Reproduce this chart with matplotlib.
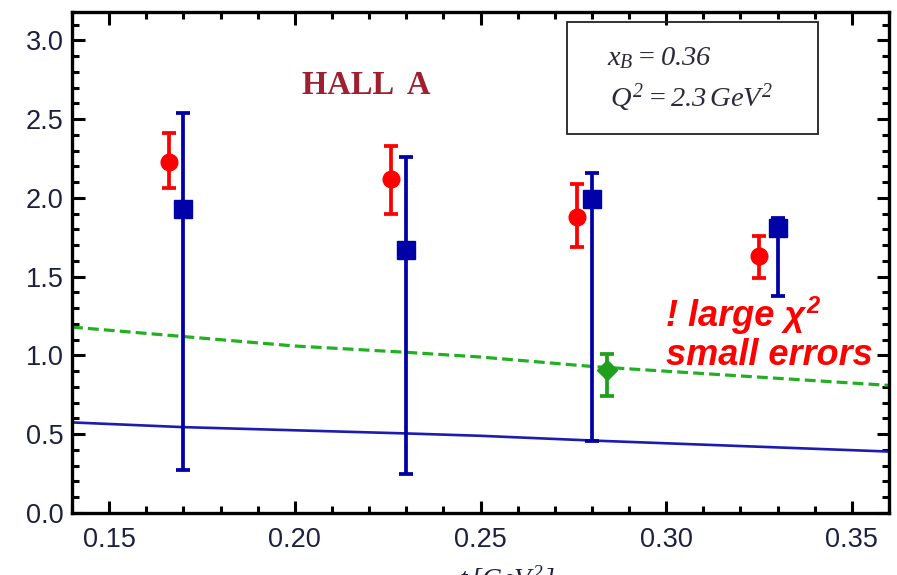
import matplotlib
matplotlib.use("Agg")
import matplotlib.pyplot as plt
from matplotlib.patches import Rectangle
from matplotlib.ticker import MultipleLocator
import numpy as np

# Hall A measurements (red circles)
red_t = [0.166, 0.226, 0.276, 0.325]
red_val = [2.23, 2.12, 1.88, 1.63]
red_lo = [2.06, 1.90, 1.69, 1.49]
red_hi = [2.41, 2.33, 2.09, 1.76]

# Fit results (blue squares)
blue_t = [0.170, 0.230, 0.280, 0.330]
blue_val = [1.93, 1.67, 1.99, 1.81]
blue_lo = [0.27, 0.25, 0.46, 1.38]
blue_hi = [2.54, 2.26, 2.16, 1.87]

# Single green point
green_t = [0.284]
green_val = [0.91]
green_lo = [0.74]
green_hi = [1.01]

# Model curves
curve_t = [0.14, 0.17, 0.20, 0.23, 0.25, 0.28, 0.32, 0.36]
green_curve = [1.18, 1.12, 1.06, 1.02, 0.99, 0.93, 0.87, 0.81]
blue_curve = [0.575, 0.545, 0.525, 0.505, 0.49, 0.46, 0.425, 0.39]

x_ticks = [0.15, 0.20, 0.25, 0.30, 0.35]
y_ticks = [0.0, 0.5, 1.0, 1.5, 2.0, 2.5, 3.0]

# italic serif math for the kinematics box and axis title
plt.rcParams['mathtext.fontset'] = 'custom'
plt.rcParams['mathtext.it'] = 'Liberation Serif:italic'
plt.rcParams['mathtext.rm'] = 'Liberation Serif:italic'

fig = plt.figure(figsize=(8.97, 5.75), dpi=100)
ax = fig.add_axes([72/897, 1-513/575, (889-72)/897, (513-12)/575])

ax.plot(curve_t, green_curve, color='#22b022', lw=2.3, ls=(0, (3.4, 1.6)), zorder=2)
ax.plot(curve_t, blue_curve, color='#1c1cb0', lw=1.9, zorder=2)


def yerr(val, lo, hi):
    v = np.asarray(val)
    return [v - np.asarray(lo), np.asarray(hi) - v]


ax.errorbar(red_t, red_val, yerr=yerr(red_val, red_lo, red_hi), fmt='o',
            color='#ff0000', ms=12, lw=2.7, capsize=5, capthick=2.7, zorder=4)
ax.errorbar(blue_t, blue_val, yerr=yerr(blue_val, blue_lo, blue_hi), fmt='s',
            color='#0000a8', ms=13, lw=2.7, capsize=5, capthick=2.7, zorder=5)
ax.errorbar(green_t, green_val, yerr=yerr(green_val, green_lo, green_hi), fmt='D',
            color='#1ea01e', ms=10, lw=2.7, capsize=5, capthick=2.7, zorder=5)

ax.set_xlim(0.14, 0.36)
ax.set_ylim(0.0, 3.18)
ax.set_xticks(x_ticks)
ax.set_yticks(y_ticks)
ax.set_xticklabels([f"{v:.2f}" for v in x_ticks])
ax.set_yticklabels([f"{v:.1f}" for v in y_ticks])
ax.xaxis.set_minor_locator(MultipleLocator(0.01))
ax.yaxis.set_minor_locator(MultipleLocator(0.1))
ax.tick_params(which='both', direction='in', top=True, right=True, width=2.2,
               colors='black', labelcolor='#1e2040')
ax.tick_params(which='major', length=9)
ax.tick_params(which='minor', length=5)
ax.tick_params(labelsize=19.5)
for lab in ax.get_xticklabels() + ax.get_yticklabels():
    lab.set_fontfamily('Liberation Sans')
ax.tick_params(axis='x', pad=10)
ax.tick_params(axis='y', pad=6)
for s in ax.spines.values():
    s.set_linewidth(2.4)

ax.text(0.2018, 2.66, "HALL  A", color='#9e2030', fontsize=23.5,
        family='Liberation Serif', weight='bold', va='baseline')

ax.add_patch(Rectangle((0.606, 0.756), 0.307, 0.224, transform=ax.transAxes,
                       fill=False, lw=1.3, ec='#222222', zorder=6))
ax.text(0.2840, 2.84, r"$x_B = 0.36$", fontsize=20.5, color='#2a2a3a',
        va='baseline')
ax.text(0.2848, 2.58, r"$Q^2 = 2.3\,GeV^2$", fontsize=20.5, color='#2a2a3a',
        va='baseline')

red_font = dict(fontsize=26, color='#ff0000', family='Liberation Sans',
                weight='bold', style='italic', va='baseline')
t1 = ax.text(0.300, 1.19, "! large \u03c7", **red_font)
ax.annotate("2", xy=(1, 0), xycoords=t1, xytext=(1, 11), textcoords='offset points',
            fontsize=17, color='#ff0000', family='Liberation Sans', weight='bold',
            style='italic', va='bottom')
ax.text(0.300, 0.94, "small errors", **red_font)

fig.text(0.555, 1-563/575, r"$-t\,[GeV^2]$", fontsize=20, color='#1e2040',
         ha='center', va='top')

fig.savefig("out.png", dpi=100)
